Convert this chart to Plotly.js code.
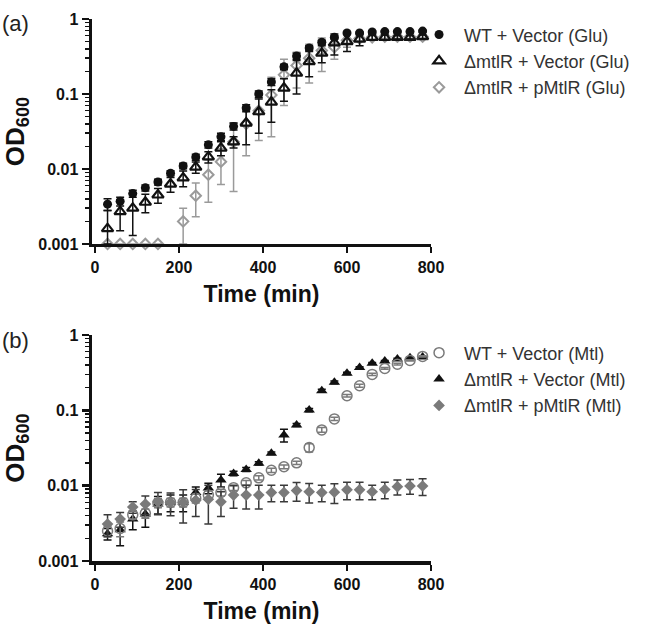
<!DOCTYPE html>
<html><head><meta charset="utf-8">
<script src="https://cdn.plot.ly/plotly-3.0.1.min.js"></script>
<style>html,body{margin:0;padding:0;background:#fff}#chart{width:652px;height:632px}</style>
</head><body><div id="chart"></div>
<script>
// ---- data ----
const time = [30,60,90,120,150,180,210,240,270,300,330,360,390,420,450,480,510,540,570,600,630,660,690,720,750,780];

// Panel (a): glucose
const wtGlu     = [0.0034,0.0037,0.0047,0.0056,0.0067,0.0088,0.011,0.0144,0.021,0.027,0.037,0.065,0.10,0.145,0.23,0.32,0.41,0.49,0.57,0.65,0.65,0.67,0.68,0.68,0.68,0.69];
const wtGluSD   = [0.0006,0.0005,0.0005,0.0005,0.0006,0.0007,0.0009,0.0013,0.002,0.003,0.004,0.007,0.01,0.015,0.02,0.03,0.03,0.03,0.03,0.03,0.02,0.02,0.02,0.02,0.02,0.02];
const mutGlu    = [0.0016,0.0027,0.0030,0.0036,0.0045,0.0063,0.0076,0.0106,0.0145,0.019,0.023,0.041,0.058,0.078,0.12,0.19,0.27,0.35,0.48,0.50,0.54,0.57,0.57,0.57,0.57,0.58];
const mutGluSD  = [0.0012,0.0012,0.0017,0.0010,0.0010,0.0014,0.0018,0.0018,0.0025,0.004,0.004,0.02,0.028,0.036,0.04,0.09,0.10,0.09,0.15,0.13,0.10,0.05,0.04,0.03,0.03,0.03];
const compGlu   = [0.001,0.001,0.001,0.001,0.001,null,0.002,0.0044,0.0084,0.0125,0.023,0.04,0.06,0.097,0.18,0.24,0.30,0.38,0.42,0.52,0.55,0.57,0.58,0.58,0.58,0.58];
const compGluSD = [0,0,0,0,0,null,0.001,0.0021,0.0048,0.0063,0.018,0.025,0.036,0.07,0.11,0.12,0.16,0.18,0.13,0.10,0.05,0.04,0.03,0.03,0.03,0.03];

// Panel (b): mannitol
const wtMtl     = [0.0025,0.0027,0.0041,0.0043,0.0059,0.006,0.006,0.0068,0.0075,0.0081,0.0094,0.0109,0.0127,0.016,0.0178,0.0201,0.032,0.055,0.077,0.156,0.212,0.30,0.36,0.41,0.46,0.52];
const wtMtlSD   = [0.0004,0.0006,0.0005,0.0006,0.0008,0.0008,0.0008,0.0009,0.001,0.0008,0.0008,0.0008,0.0008,0.001,0.001,0.001,0.004,0.004,0.004,0.006,0.01,0.01,0.01,0.01,0.01,0.01];
const mutMtl    = [0.0023,0.0026,0.0036,0.0042,0.0057,0.006,0.006,0.0081,0.0093,0.0119,0.0145,0.0164,0.0198,0.027,0.047,0.064,0.101,0.182,0.235,0.31,0.37,0.42,0.45,0.48,0.50,0.51];
const mutMtlSD  = [0.0004,0.0010,0.0010,0.0014,0.0015,0.0015,0.0015,0.0015,0.0015,0.0023,0.001,0.001,0.001,0.001,0.009,0.003,0.005,0.008,0.01,0.01,0.01,0.01,0.01,0.01,0.01,0.01];
const compMtl   = [0.0031,0.0036,0.0052,0.0057,0.0061,0.006,0.006,0.0064,0.0066,0.0061,0.0075,0.0075,0.0075,0.0081,0.0081,0.0086,0.0083,0.0081,0.0082,0.0088,0.0088,0.0083,0.0089,0.0097,0.0099,0.0099];
const compMtlSD = [0.001,0.0008,0.0009,0.0016,0.002,0.002,0.0028,0.0025,0.0035,0.0022,0.0025,0.0026,0.0026,0.002,0.002,0.0024,0.0024,0.002,0.0024,0.0023,0.0023,0.0018,0.0022,0.0022,0.0022,0.0025];

const names = ['WT + Vector (Glu)','ΔmtlR + Vector (Glu)','ΔmtlR + pMtlR (Glu)',
               'WT + Vector (Mtl)','ΔmtlR + Vector (Mtl)','ΔmtlR + pMtlR (Mtl)'];
const yTickVals = [0.001,0.01,0.1,1];
const yTickText = ['0.001','0.01','0.1','1'];
const xTickVals = [0,200,400,600,800];

// ---- styling helpers ----
const FONT = 'Liberation Sans, Arial, Helvetica, sans-serif';
function minusArr(y, sd){ return sd.map((s,i)=> (s==null||y[i]==null)? null : Math.min(s, y[i]-0.001)); }
function err(y, sd, color){
  return {type:'data', symmetric:false, array:sd, arrayminus:minusArr(y,sd), color:color, thickness:1.5, width:4};
}
function tr(y, sd, name, marker, ecolor, xa, ya, legend, rank){
  return {x:time, y:y, name:name, type:'scatter', mode:'markers', marker:marker,
          error_y:err(y,sd,ecolor), xaxis:xa, yaxis:ya, legend:legend, legendrank:rank,
          legendgroup:name, cliponaxis:false};
}

const traces = [
  tr(compGlu, compGluSD, names[2], {symbol:'diamond-open', size:8, color:'#9a9a9a', line:{width:2, color:'#9a9a9a'}}, '#9a9a9a', 'x','y','legend',3),
  tr(mutGlu,  mutGluSD,  names[1], {symbol:'triangle-up-open', size:10, color:'#111', line:{width:2.2, color:'#111'}}, '#111', 'x','y','legend',2),
  tr(wtGlu,   wtGluSD,   names[0], {symbol:'circle', size:9, color:'#111'}, '#111', 'x','y','legend',1),
  tr(mutMtl,  mutMtlSD,  names[4], {symbol:'triangle-up', size:10, color:'#111'}, '#111', 'x2','y2','legend2',2),
  tr(wtMtl,   wtMtlSD,   names[3], {symbol:'circle-open', size:10, color:'#7a7a7a', line:{width:1.5, color:'#7a7a7a'}}, '#7a7a7a', 'x2','y2','legend2',1),
  tr(compMtl, compMtlSD, names[5], {symbol:'diamond', size:9, color:'#7a7a7a'}, '#3a3a3a', 'x2','y2','legend2',3)
];

const minorVals = [];
[0.001,0.01,0.1].forEach(d=>{ for(let k=2;k<=9;k++) minorVals.push(d*k); });

function yAxis(domain, anchor){
  return {type:'log', range:[-3,0], domain:domain, anchor:anchor,
    tickvals:yTickVals, ticktext:yTickText, ticks:'outside', ticklen:7, tickwidth:2.5, tickcolor:'#111',
    minor:{tickvals:minorVals, ticks:'outside', ticklen:4, tickwidth:1.5, tickcolor:'#111', showgrid:false},
    showline:true, linewidth:3.5, linecolor:'#111', showgrid:false, zeroline:false,
    tickfont:{family:FONT, size:16, color:'#111', weight:'bold'},
    title:{text:'OD<sub>600</sub>', font:{family:FONT, size:26, color:'#111', weight:'bold'}, standoff:8}};
}
function xAxis(anchor){
  return {range:[-7,800], anchor:anchor, domain:[0,1],
    tickvals:xTickVals, ticks:'outside', ticklen:6, tickwidth:2.5, tickcolor:'#111',
    showline:true, linewidth:3.5, linecolor:'#111', showgrid:false, zeroline:false,
    tickfont:{family:FONT, size:16, color:'#111', weight:'bold'},
    title:{text:'Time (min)', font:{family:FONT, size:23, color:'#111', weight:'bold'}, standoff:12}};
}

const legendBase = {xanchor:'left', yanchor:'top', font:{family:FONT, size:18, color:'#333'},
  tracegroupgap:0, itemwidth:40, bgcolor:'rgba(0,0,0,0)', traceorder:'grouped'};

const layout = {
  width:652, height:632,
  margin:{l:92, r:221, t:19, b:71, autoexpand:false},
  paper_bgcolor:'#fff', plot_bgcolor:'rgba(0,0,0,0)',
  showlegend:true,
  xaxis:xAxis('y'),
  yaxis:yAxis([0.5849,1],'x'),
  xaxis2:xAxis('y2'),
  yaxis2:yAxis([0,0.417],'x2'),
  legend:Object.assign({x:0.95, y:1.005}, legendBase),
  legend2:Object.assign({x:0.95, y:0.418}, legendBase),
  annotations:[
    {text:'(a)', xref:'paper', yref:'paper', x:-0.2714, y:0.9908, xanchor:'left', yanchor:'middle', showarrow:false, font:{family:FONT, size:22, color:'#222'}},
    {text:'(b)', xref:'paper', yref:'paper', x:-0.2714, y:0.4077, xanchor:'left', yanchor:'middle', showarrow:false, font:{family:FONT, size:22, color:'#222'}}
  ]
};

Plotly.newPlot('chart', traces, layout, {displayModeBar:false, staticPlot:true});
</script>
</body></html>
